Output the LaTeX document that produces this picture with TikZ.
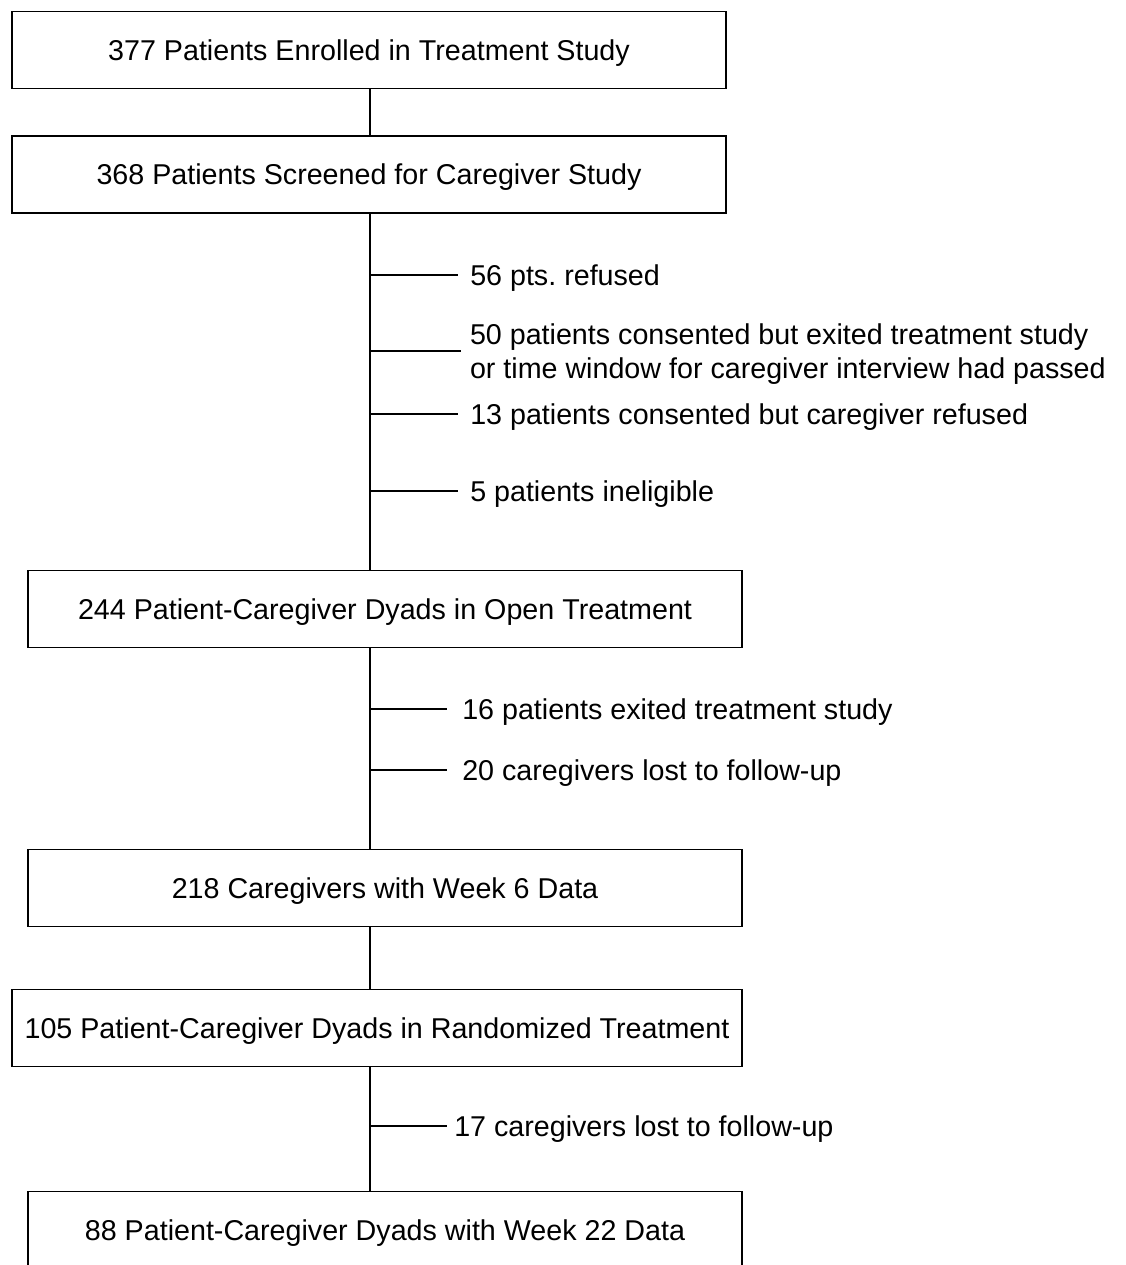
\documentclass[tikz,border=0pt]{standalone}
\usepackage{fontspec}
\setmainfont{Liberation Sans}
\begin{document}
\begin{tikzpicture}[x=0.75pt,y=-0.75pt,
  txt/.style={font=\fontsize{21.5}{26}\selectfont},
  box/.style={txt, draw, line width=1.4pt, rectangle, minimum width=535.5pt, minimum height=57.75pt, inner sep=0pt, text height=15.4pt, text depth=0pt},
  sidebase/.style={txt, anchor=west, inner ysep=0pt, inner xsep=#1, align=left},
  sidebase/.default=9pt,
  side/.style={sidebase=#1, text height=15.4pt, text depth=0pt},
  side/.default=9pt,
  conn/.style={line width=1.2pt}]
\useasboundingbox (0,0) rectangle (1126,1265);
\clip (0,0) rectangle (1126,1265);
\coordinate (tX) at (370,0);
\node[box] (b1) at (369,50) {377 Patients Enrolled in Treatment Study};
\node[box] (b2) at (369,174.5) {368 Patients Screened for Caregiver Study};
\node[box] (b3) at (385,609) {244 Patient-Caregiver Dyads in Open Treatment};
\node[box] (b4) at (385,888) {218 Caregivers with Week 6 Data};
\node[box, minimum width=547.5pt] (b5) at (377,1028) {105 Patient-Caregiver Dyads in Randomized Treatment};
\node[box] (b6) at (385,1230) {88 Patient-Caregiver Dyads with Week 22 Data};
\node[side] (s1) at (458,275) {56 pts.\ refused};
\node[sidebase=6.75pt, inner ysep=0pt, outer sep=0pt, yshift=0pt] (s2) at (461,351) {\rule{0pt}{20pt}50 patients consented but exited treatment study\\or time window for caregiver interview had passed};
\node[side] (s3) at (458,414) {13 patients consented but caregiver refused};
\node[side] (s4) at (458,491) {5 patients ineligible};
\node[side=11.25pt] (s5) at (447,709) {16 patients exited treatment study};
\node[side=11.25pt] (s6) at (447,770) {20 caregivers lost to follow-up};
\node[side=5.25pt] (s7) at (447,1126) {17 caregivers lost to follow-up};
\draw[conn] (b1.south -| tX) -- (b2.north -| tX);
\draw[conn] (b2.south -| tX) -- (b3.north -| tX);
\draw[conn] (b3.south -| tX) -- (b4.north -| tX);
\draw[conn] (b4.south -| tX) -- (b5.north -| tX);
\draw[conn] (b5.south -| tX) -- (b6.north -| tX);
\foreach \s in {s1,s2,s3,s4,s5,s6,s7}{\draw[conn] (\s.west -| tX) -- (\s.west);}
\end{tikzpicture}
\end{document}
